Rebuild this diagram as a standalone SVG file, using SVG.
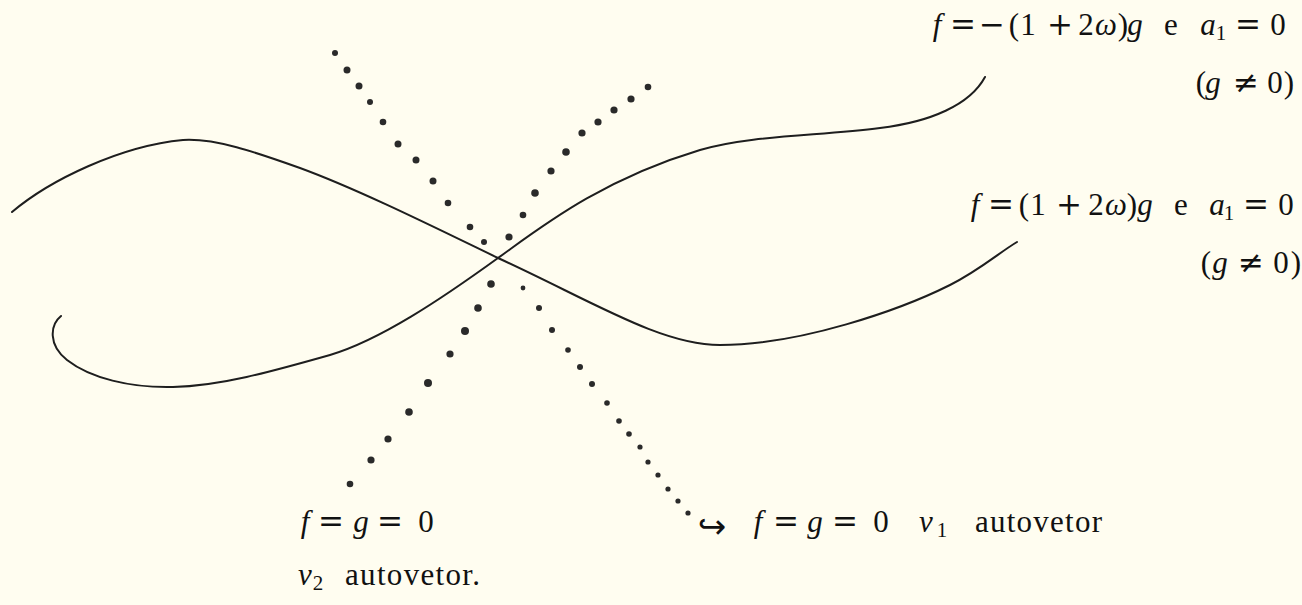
<svg xmlns="http://www.w3.org/2000/svg" width="1302" height="605" viewBox="0 0 1302 605">
<style>
.bg{fill:#fffdf0}
.curve{fill:none;stroke:#1e1e1e;stroke-width:2;stroke-linecap:round}
.dot{fill:#2a2a2a}
text{fill:#111;font-family:"Liberation Serif","DejaVu Serif",serif;font-size:31px;text-anchor:middle}
.it{font-style:italic}
.op{font-family:"DejaVu Serif","Liberation Serif",serif;font-size:31px}
.sub{font-size:21px}
.rm{text-anchor:start}
.arr{font-family:"DejaVu Sans",sans-serif;font-size:34px}
</style>
<rect class="bg" x="0" y="0" width="1302" height="605"/>

<g id="curves">
<path id="curve-a" class="curve" d="M12,212 C50,180 120,146 183,140 C215,138 255,152 300,168 C360,190 440,230 498,258 C590,300 660,345 720,345 C800,345 900,310 950,285 C980,270 1000,252 1017,242"/>
<path id="curve-b" class="curve" d="M61,316 C50,325 48,345 67,360 C90,378 130,388 173,387 C220,386 270,372 330,355 C380,340 440,300 498,258 C540,228 600,180 700,150 C750,135 820,136 880,128 C930,122 970,105 985,77"/>
</g>

<g id="dotted-v1">
<circle class="dot" cx="335" cy="53" r="3"/>
<circle class="dot" cx="347" cy="70" r="3.5"/>
<circle class="dot" cx="359" cy="86" r="3.5"/>
<circle class="dot" cx="370" cy="102" r="3"/>
<circle class="dot" cx="383" cy="122" r="3.3"/>
<circle class="dot" cx="398" cy="144" r="3.5"/>
<circle class="dot" cx="416" cy="160" r="3.5"/>
<circle class="dot" cx="433" cy="181" r="3.5"/>
<circle class="dot" cx="448" cy="203" r="3.3"/>
<circle class="dot" cx="470" cy="227" r="3.3"/>
<circle class="dot" cx="484" cy="242" r="3"/>
<circle class="dot" cx="523" cy="288" r="2.4"/>
<circle class="dot" cx="539" cy="308" r="3"/>
<circle class="dot" cx="552" cy="330" r="3"/>
<circle class="dot" cx="568" cy="350" r="2.8"/>
<circle class="dot" cx="580" cy="367" r="3"/>
<circle class="dot" cx="592" cy="384" r="3"/>
<circle class="dot" cx="607" cy="403" r="2.8"/>
<circle class="dot" cx="619" cy="421" r="2.8"/>
<circle class="dot" cx="629" cy="434" r="2.8"/>
<circle class="dot" cx="640" cy="447" r="2.6"/>
<circle class="dot" cx="648" cy="462" r="2.6"/>
<circle class="dot" cx="658" cy="475" r="2.6"/>
<circle class="dot" cx="668" cy="489" r="2.6"/>
<circle class="dot" cx="678" cy="501" r="2.6"/>
<circle class="dot" cx="688" cy="513" r="2.6"/>
</g>

<g id="dotted-v2">
<circle class="dot" cx="648" cy="87" r="3.3"/>
<circle class="dot" cx="631" cy="99" r="3.6"/>
<circle class="dot" cx="614" cy="110" r="3.6"/>
<circle class="dot" cx="598" cy="122" r="3.6"/>
<circle class="dot" cx="582" cy="133" r="3.6"/>
<circle class="dot" cx="566" cy="152" r="3.8"/>
<circle class="dot" cx="551" cy="171" r="3.6"/>
<circle class="dot" cx="535" cy="193" r="3.8"/>
<circle class="dot" cx="523" cy="215" r="3.3"/>
<circle class="dot" cx="509" cy="237" r="3.6"/>
<circle class="dot" cx="491" cy="284" r="3.8"/>
<circle class="dot" cx="478" cy="308" r="3.8"/>
<circle class="dot" cx="465" cy="331" r="4"/>
<circle class="dot" cx="450" cy="354" r="3.6"/>
<circle class="dot" cx="428" cy="383" r="4"/>
<circle class="dot" cx="409" cy="412" r="3.8"/>
<circle class="dot" cx="388" cy="439" r="3.6"/>
<circle class="dot" cx="371" cy="460" r="3.6"/>
<circle class="dot" cx="350" cy="484" r="3.3"/>
</g>

<g id="label-neg">
<text class="it" x="937" y="35">f</text>
<text class="op" x="963" y="35">=</text>
<text class="op" x="992" y="35">−</text>
<text x="1014" y="35">(</text>
<text x="1028" y="35">1</text>
<text class="op" x="1060" y="35">+</text>
<text x="1086" y="35">2</text>
<text class="it" x="1106" y="35">ω</text>
<text x="1123" y="35">)</text>
<text class="it" x="1135" y="35">g</text>
<text x="1171" y="35">e</text>
<text class="it" x="1208" y="35">a</text>
<text class="sub" x="1221" y="40">1</text>
<text class="op" x="1248" y="35">=</text>
<text x="1278" y="35">0</text>
<text x="1201" y="93">(</text>
<text class="it" x="1213" y="93">g</text>
<text class="op" x="1246" y="93">≠</text>
<text x="1275" y="93">0</text>
<text x="1289" y="93">)</text>
</g>

<g id="label-pos">
<text class="it" x="975" y="215">f</text>
<text class="op" x="1001" y="215">=</text>
<text x="1024" y="215">(</text>
<text x="1038" y="215">1</text>
<text class="op" x="1069" y="215">+</text>
<text x="1096" y="215">2</text>
<text class="it" x="1116" y="215">ω</text>
<text x="1132" y="215">)</text>
<text class="it" x="1145" y="215">g</text>
<text x="1181" y="215">e</text>
<text class="it" x="1217" y="215">a</text>
<text class="sub" x="1229" y="220">1</text>
<text class="op" x="1256" y="215">=</text>
<text x="1286" y="215">0</text>
<text x="1206" y="273">(</text>
<text class="it" x="1220" y="273">g</text>
<text class="op" x="1251" y="273">≠</text>
<text x="1281" y="273">0</text>
<text x="1296" y="273">)</text>
</g>

<g id="label-v2">
<text class="it" x="305" y="532">f</text>
<text class="op" x="331" y="532">=</text>
<text class="it" x="361" y="532">g</text>
<text class="op" x="390" y="532">=</text>
<text x="426" y="532">0</text>
<text class="it" x="305" y="585">v</text>
<text class="sub" x="318" y="590">2</text>
<text class="rm" x="345" y="585" textLength="135" lengthAdjust="spacing">autovetor.</text>
</g>

<g id="label-v1">
<text class="arr" x="712" y="538">↪</text>
<text class="it" x="758" y="532">f</text>
<text class="op" x="786" y="532">=</text>
<text class="it" x="815" y="532">g</text>
<text class="op" x="845" y="532">=</text>
<text x="881" y="532">0</text>
<text class="it" x="926" y="532">v</text>
<text class="sub" x="942" y="537">1</text>
<text class="rm" x="975" y="532" textLength="127" lengthAdjust="spacing">autovetor</text>
</g>
</svg>
